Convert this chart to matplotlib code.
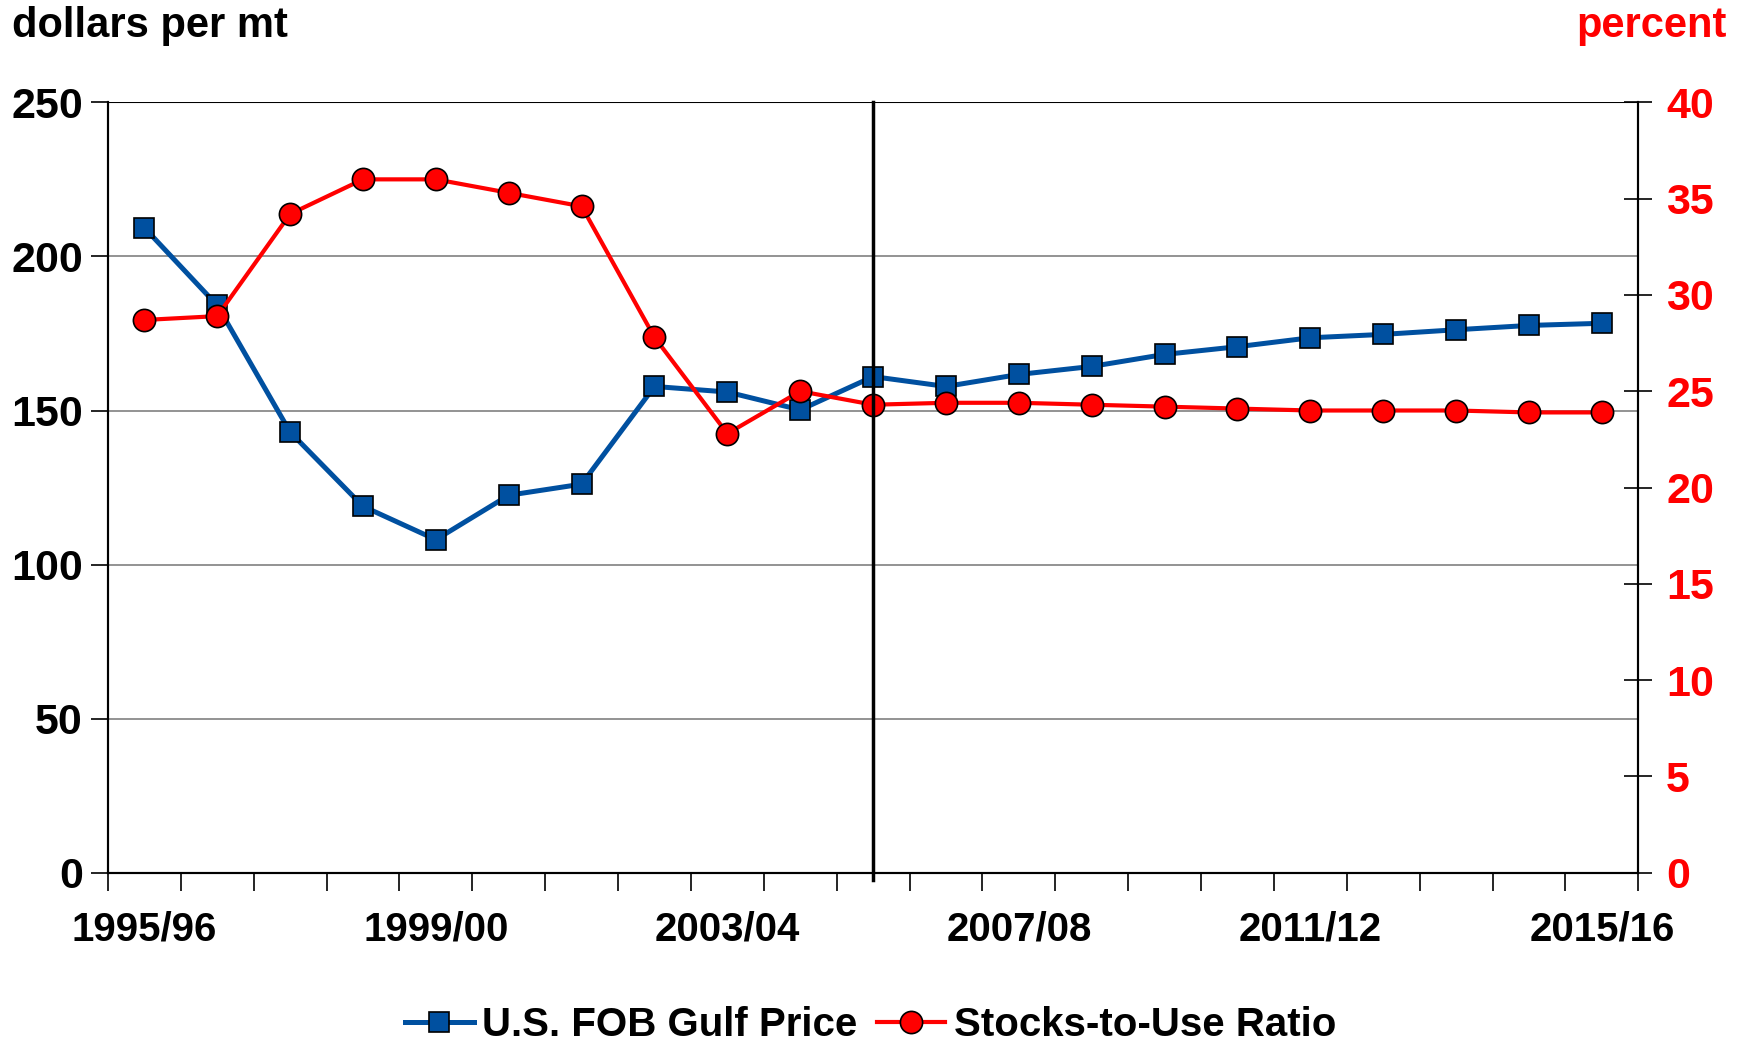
import matplotlib.pyplot as plt
import numpy as np

plt.rcParams['font.family'] = ['Liberation Sans', 'DejaVu Sans']
plt.rcParams['font.weight'] = 'bold'

# Campañas 1995/96 - 2015/16
years = ['1995/96', '1996/97', '1997/98', '1998/99', '1999/00', '2000/01', '2001/02',
         '2002/03', '2003/04', '2004/05', '2005/06', '2006/07', '2007/08', '2008/09',
         '2009/10', '2010/11', '2011/12', '2012/13', '2013/14', '2014/15', '2015/16']

# Precio FOB Golfo (dólares por tonelada)
gulf_price = [209.3, 184.1, 143.0, 118.9, 108.1, 122.5, 126.1, 157.8, 156.0, 150.2,
              161.0, 157.8, 161.7, 164.3, 168.2, 170.7, 173.6, 174.7, 176.2, 177.6, 178.3]

# Relación existencias/uso (porcentaje)
stocks_to_use = [28.7, 28.9, 34.2, 36.0, 36.0, 35.3, 34.6, 27.8, 22.8, 25.0,
                 24.3, 24.4, 24.4, 24.3, 24.2, 24.1, 24.0, 24.0, 24.0, 23.9, 23.9]

x = np.arange(len(years))
fs = 29

fig = plt.figure(figsize=(17.41, 10.44), dpi=100)
ax = fig.add_axes([0.062, 0.164, 0.879, 0.738])
ax2 = ax.twinx()

# Precio en el eje izquierdo
ax.plot(x, gulf_price, color='#0050a0', lw=3.6, marker='s', markersize=15,
        markerfacecolor='#0050a0', markeredgecolor='black', markeredgewidth=1.2,
        label='U.S. FOB Gulf Price', zorder=3)

# Relación en el eje derecho
ax2.plot(x, stocks_to_use, color='#ff0000', lw=3, marker='o', markersize=16,
         markerfacecolor='#ff0000', markeredgecolor='black', markeredgewidth=1.2,
         label='Stocks-to-Use Ratio', zorder=3)

# Línea vertical de separación
ax2.plot([10, 10], [-0.4, 40], color='black', lw=2.5, clip_on=False, zorder=5)

ax.set_xlim(-0.5, 20.5)
ax.set_ylim(0, 250)
ax2.set_ylim(0, 40)

ax.set_yticks(np.arange(0, 251, 50))
ax2.set_yticks(np.arange(0, 41, 5))
ax.set_xticks(x[::4])
ax.set_xticklabels(years[::4])
ax.set_xticks(np.arange(-0.5, 21, 1), minor=True)

for y in [50, 100, 150, 200]:
    ax.axhline(y, color='#808080', lw=1.2, zorder=0)
ax.axhline(250, color='black', lw=1.5, zorder=0)

ax.tick_params(axis='x', which='major', length=0, pad=27, labelsize=fs)
ax.tick_params(axis='x', which='minor', length=13, width=1.2, direction='out')
ax.tick_params(axis='y', length=12, width=1.2, direction='out', labelsize=31, pad=6)
ax2.tick_params(axis='y', length=20, width=1.2, direction='inout', labelsize=31,
                labelcolor='#ff0000', pad=10)

for a in (ax, ax2):
    a.spines['top'].set_visible(False)
    for s in ('left', 'right', 'bottom'):
        a.spines[s].set_linewidth(1.5)

for lab in ax.get_xticklabels() + ax.get_yticklabels() + ax2.get_yticklabels():
    lab.set_fontweight('bold')

fig.text(0.007, 0.975, 'dollars per mt', fontsize=30, fontweight='bold', va='center', ha='left')
fig.text(0.992, 0.975, 'percent', fontsize=30, fontweight='bold', color='#ff0000',
         va='center', ha='right')

h1, l1 = ax.get_legend_handles_labels()
h2, l2 = ax2.get_legend_handles_labels()
fig.legend(h1 + h2, l1 + l2, loc='center', bbox_to_anchor=(0.5, 0.018), ncol=2,
           frameon=False, handlelength=1.7, handletextpad=0.2,
           columnspacing=0.5, prop={'weight': 'bold', 'size': fs})

fig.savefig('out.png', dpi=100)
